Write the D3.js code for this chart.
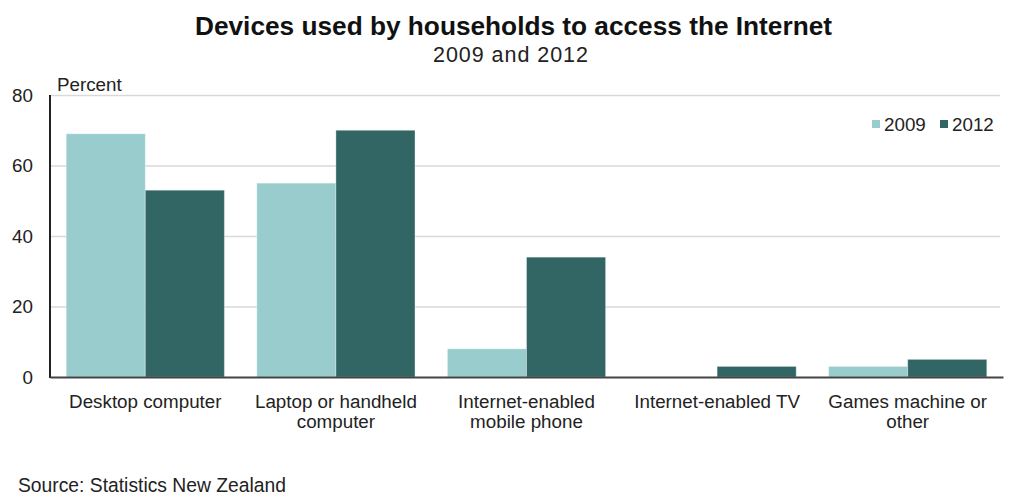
<!DOCTYPE html>
<html>
<head>
<meta charset="utf-8">
<script src="https://cdn.jsdelivr.net/npm/d3@7"></script>
<style>
  html, body { margin: 0; padding: 0; background: #fff; }
  svg { display: block; font-family: "Liberation Sans", Arial, sans-serif; }
</style>
</head>
<body>
<svg id="chart" width="1009" height="498"></svg>
<script>
const categories = ["Desktop computer", "Laptop or handheld computer", "Internet-enabled mobile phone", "Internet-enabled TV", "Games machine or other"];
const categoryLines = [["Desktop computer"], ["Laptop or handheld", "computer"], ["Internet-enabled", "mobile phone"], ["Internet-enabled TV"], ["Games machine or", "other"]];
const seriesNames = ["2009", "2012"];
const values2009 = [69, 55, 8, 0, 3];
const values2012 = [53, 70, 34, 3, 5];
const yTicks = [0, 20, 40, 60, 80];
const colors = ["#99cccc", "#316665"];

const svg = d3.select("#chart");
const mLeft = 50, mRight = 1003, mTop = 95, mBottom = 377;
const FS = 18.8;
const FF = "Liberation Sans, Arial, sans-serif";

const x = d3.scaleBand().domain(categories).range([mLeft, mRight]).paddingInner(0.17).paddingOuter(0.085);
const xs = d3.scaleBand().domain(seriesNames).range([0, x.bandwidth()]).padding(0);
const y = d3.scaleLinear().domain([0, 80]).range([mBottom, mTop]);

// gridlines
const grid = svg.append("g").attr("transform", `translate(${mLeft},0)`)
  .call(d3.axisLeft(y).tickValues(yTicks.filter(d => d > 0)).tickSize(-(1000 - mLeft)).tickFormat(""));
grid.select(".domain").remove();
grid.selectAll("line").attr("stroke", "#d9d9d9").attr("stroke-width", 1.5);

// y labels
const yAxis = svg.append("g").attr("transform", `translate(${mLeft},0)`)
  .call(d3.axisLeft(y).tickValues(yTicks).tickSize(0).tickPadding(17));
yAxis.select(".domain").remove();
yAxis.selectAll("text").attr("font-size", FS).attr("fill", "#222").attr("font-family", FF);

// bars
const data = categories.map((c, i) => ({ cat: c, vals: [values2009[i], values2012[i]] }));
const groups = svg.append("g").selectAll("g").data(data).join("g")
  .attr("transform", d => `translate(${x(d.cat)},0)`);
groups.selectAll("rect")
  .data(d => d.vals.map((v, j) => ({ key: seriesNames[j], v, j })).filter(e => e.v > 0))
  .join("rect")
  .attr("x", d => xs(d.key))
  .attr("width", xs.bandwidth())
  .attr("y", d => y(d.v))
  .attr("height", d => y(0) - y(d.v))
  .attr("fill", d => colors[d.j])
  .attr("stroke", "rgba(255,255,255,0.35)")
  .attr("stroke-width", 1);

// axes lines
svg.append("line").attr("x1", mLeft).attr("x2", mLeft).attr("y1", mTop).attr("y2", mBottom + 1)
  .attr("stroke", "#222").attr("stroke-width", 2);
const xAxis = svg.append("g").attr("transform", `translate(0,${mBottom})`)
  .call(d3.axisBottom(x).tickSize(0).tickPadding(0));
xAxis.select(".domain").attr("stroke", "#444").attr("stroke-width", 2);
xAxis.selectAll(".tick text").each(function(d, i) {
  const t = d3.select(this);
  t.text(null).attr("font-size", FS).attr("fill", "#222")
   .attr("font-family", FF).attr("dy", null).attr("y", 0);
  categoryLines[i].forEach((ln, k) => {
    t.append("tspan").attr("x", 0).attr("y", 30.5 + k * 20).text(ln);
  });
});

// titles
svg.append("text").attr("x", 513.5).attr("y", 35).attr("text-anchor", "middle")
  .attr("font-size", 25).attr("font-weight", "bold").attr("fill", "#111")
  .attr("textLength", 637).attr("lengthAdjust", "spacingAndGlyphs")
  .text("Devices used by households to access the Internet");
svg.append("text").attr("x", 510.5).attr("y", 62).attr("text-anchor", "middle")
  .attr("font-size", 21.5).attr("fill", "#222")
  .attr("textLength", 155).attr("lengthAdjust", "spacing")
  .text("2009 and 2012");
svg.append("text").attr("x", 57).attr("y", 91).attr("font-size", FS).attr("fill", "#222").text("Percent");
svg.append("text").attr("x", 18).attr("y", 492).attr("font-size", 19.3).attr("fill", "#222").text("Source: Statistics New Zealand");

// legend
const legendX = [872, 940];
const leg = svg.append("g").selectAll("g").data(seriesNames).join("g")
  .attr("transform", (d, i) => `translate(${legendX[i]},124)`);
leg.append("rect").attr("x", 0).attr("y", -4).attr("width", 8).attr("height", 8).attr("fill", (d, i) => colors[i]);
leg.append("text").attr("x", 12).attr("y", 7).attr("font-size", FS).attr("fill", "#222").text(d => d);
</script>
</body>
</html>
